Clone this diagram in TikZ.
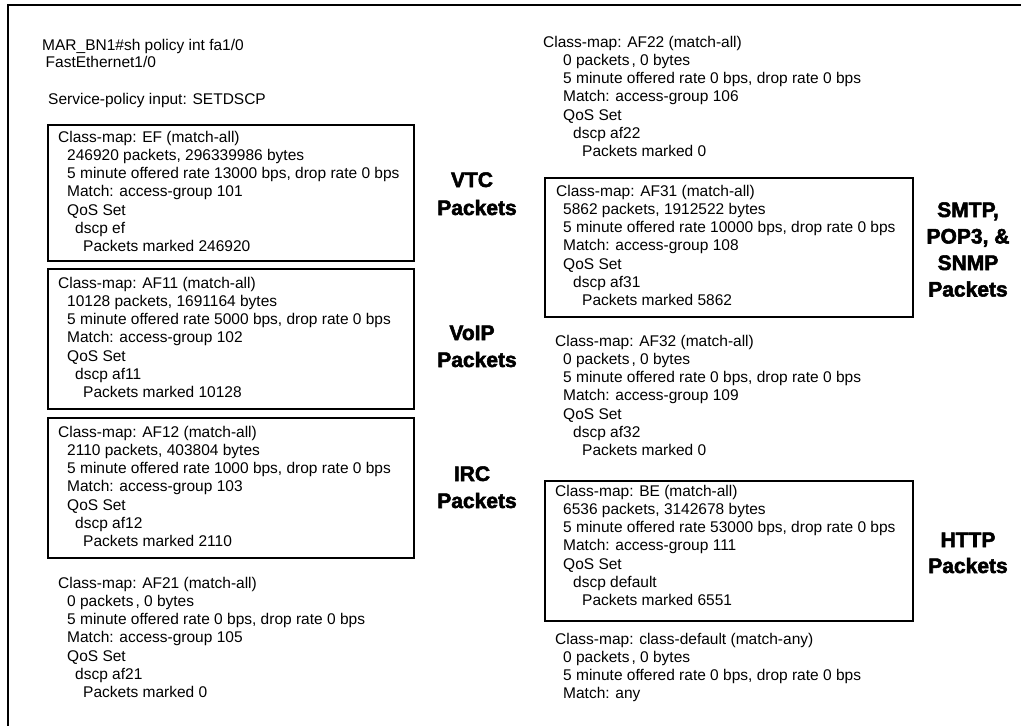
\documentclass[tikz,border=0pt]{standalone}
\usepackage{fontspec}
\setmainfont{Liberation Sans}
\newfontfamily\heavy[BoldFeatures={FakeBold=2.5}]{Liberation Sans}
\newcommand\txtblock[4]{%
  \foreach \dx/\mytext [count=\i] in {#4} {
    \node[txt] (#1-\i) at ({#2+\dx},{#3+18.3*(\i-1)}) {\mytext};
  }%
}
\tikzset{
  txt/.style={anchor=base west, inner sep=0pt, font={\fontsize{15.5}{18}\selectfont}},
  lbl/.style={anchor=base, inner sep=0pt, font={\heavy\bfseries\fontsize{21}{27}\selectfont}},
  boxr/.style={draw, line width=2pt, anchor=north west, inner sep=0pt},
  frameline/.style={line width=2pt}
}
\begin{document}
\begin{tikzpicture}[x=1pt,y=-1pt]
\useasboundingbox (0,0) rectangle (1021,726);
% partial frame
\coordinate (tr) at (1021,5);
\coordinate (tl) at (8,5);
\coordinate (bl) at (8,726);
\draw[frameline] (tr) -- (tl) -- (bl);

% boxes
\node[boxr, minimum width=366pt, minimum height=136pt] (efbox)   at (47,124) {};
\node[boxr, minimum width=366pt, minimum height=140pt] (af11box) at (47,268) {};
\node[boxr, minimum width=366pt, minimum height=140pt] (af12box) at (47,417) {};
\node[boxr, minimum width=368pt, minimum height=139pt] (af31box) at (544,177) {};
\node[boxr, minimum width=368pt, minimum height=140pt] (bebox)   at (544,480) {};

% header
\node[txt] (cmd)  at (42,50)  {MAR\_BN1\#sh policy int fa1/0};
\node[txt] (intf) at (45.5,67)  {FastEthernet1/0};
\node[txt] (svc)  at (48,104) {Service-policy input: SETDSCP};

% left column
\txtblock{ef}{58}{142}{0/{Class-map: EF (match-all)},9/{246920 packets, 296339986 bytes},9/{5 minute offered rate 13000 bps, drop rate 0 bps},9/{Match: access-group 101},9/{QoS Set},17/{dscp ef},25/{Packets marked 246920}}
\txtblock{af11}{58}{288}{0/{Class-map: AF11 (match-all)},9/{10128 packets, 1691164 bytes},9/{5 minute offered rate 5000 bps, drop rate 0 bps},9/{Match: access-group 102},9/{QoS Set},17/{dscp af11},25/{Packets marked 10128}}
\txtblock{af12}{58}{437}{0/{Class-map: AF12 (match-all)},9/{2110 packets, 403804 bytes},9/{5 minute offered rate 1000 bps, drop rate 0 bps},9/{Match: access-group 103},9/{QoS Set},17/{dscp af12},25/{Packets marked 2110}}
\txtblock{af21}{58}{588}{0/{Class-map: AF21 (match-all)},9/{0 packets\kern2pt, 0 bytes},9/{5 minute offered rate 0 bps, drop rate 0 bps},9/{Match: access-group 105},9/{QoS Set},17/{dscp af21},25/{Packets marked 0}}

% right column
\txtblock{af22}{543}{47}{0/{Class-map: AF22 (match-all)},20/{0 packets\kern2pt, 0 bytes},20/{5 minute offered rate 0 bps, drop rate 0 bps},20/{Match: access-group 106},20/{QoS Set},30/{dscp af22},39/{Packets marked 0}}
\txtblock{af31}{556}{196}{0/{Class-map: AF31 (match-all)},7/{5862 packets, 1912522 bytes},7/{5 minute offered rate 10000 bps, drop rate 0 bps},7/{Match: access-group 108},7/{QoS Set},17/{dscp af31},26/{Packets marked 5862}}
\txtblock{af32}{555}{346}{0/{Class-map: AF32 (match-all)},8/{0 packets\kern2pt, 0 bytes},8/{5 minute offered rate 0 bps, drop rate 0 bps},8/{Match: access-group 109},8/{QoS Set},18/{dscp af32},27/{Packets marked 0}}
\txtblock{be}{555}{496}{0/{Class-map: BE (match-all)},8/{6536 packets, 3142678 bytes},8/{5 minute offered rate 53000 bps, drop rate 0 bps},8/{Match: access-group 111},8/{QoS Set},18/{dscp default},27/{Packets marked 6551}}
\txtblock{cd}{555}{644}{0/{Class-map: class-default (match-any)},8/{0 packets\kern2pt, 0 bytes},8/{5 minute offered rate 0 bps, drop rate 0 bps},8/{Match: any}}

% labels
\node[lbl] (vtc)   at (472,187) {VTC};
\node[lbl] (vtcp)  at (477,215) {Packets};
\node[lbl] (voip)  at (472,340) {VoIP};
\node[lbl] (voipp) at (477,367) {Packets};
\node[lbl] (irc)   at (472,481) {IRC};
\node[lbl] (ircp)  at (477,508) {Packets};
\node[lbl] (smtp)  at (968,217) {SMTP,};
\node[lbl] (pop)   at (968,243.5) {POP3, \&};
\node[lbl] (snmp)  at (968,270) {SNMP};
\node[lbl] (smtpp) at (968,296.5) {Packets};
\node[lbl] (http)  at (968,547) {HTTP};
\node[lbl] (httpp) at (968,573) {Packets};
\end{tikzpicture}
\end{document}
